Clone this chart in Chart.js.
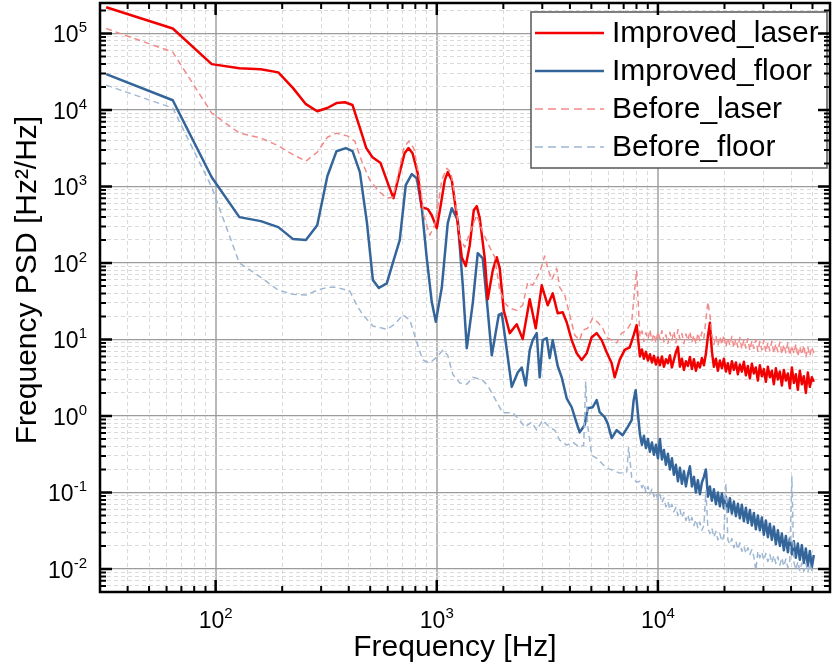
<!DOCTYPE html>
<html>
<head>
<meta charset="utf-8">
<title>Frequency PSD</title>
<script src="https://cdn.jsdelivr.net/npm/chart.js@4.4.1/dist/chart.umd.min.js"></script>
<style>
  html, body { margin: 0; padding: 0; background: #fff; }
</style>
</head>
<body>
<canvas id="psd" width="832" height="670"></canvas>
<script>
// decade ticks: labels are "10" with these exponents
const xDecades = [100, 1000, 10000];
const xTickExponents = ["2", "3", "4"];
const yDecades = [0.01, 0.1, 1, 10, 100, 1000, 10000, 100000];
const yTickExponents = ["-2", "-1", "0", "1", "2", "3", "4", "5"];

const xTitle = "Frequency [Hz]";
const yTitle = "Frequency PSD [Hz²/Hz]";
const seriesNames = ["Improved_laser", "Improved_floor", "Before_laser", "Before_floor"];

// shared frequency grid (Hz) for the noisy part above ~8 kHz
const tailHz = [8291, 8466, 8644, 8825, 9011, 9201, 9395, 9593, 9794, 10000,
  10211, 10425, 10644, 10868, 11097, 11331, 11569, 11812, 12061, 12315,
  12574, 12838, 13108, 13384, 13665, 13953, 14246, 14546, 14852, 15164,
  15483, 15809, 16141, 16481, 16827, 17181, 17542, 17911, 18288, 18672,
  19065, 19466, 19875, 20293, 20719, 21155, 21600, 22054, 22518, 22991,
  23475, 23968, 24472, 24987, 25512, 26049, 26596, 27155, 27726, 28309,
  28906, 29512, 30132, 30766, 31414, 32077, 32751, 33439, 34143, 34863,
  35596, 36343, 37107, 37889, 38684, 39500, 40329, 41178, 42045, 42928,
  43831, 44754, 45694, 46656, 47636, 48638, 49660, 50704];

// Improved_laser
const improvedLaserHz = [32, 64, 96, 128, 160, 192, 224, 256, 288, 320,
  352, 384, 416, 448, 480, 512, 557, 605, 637, 679,
  715, 745, 777, 820, 855, 911, 949, 1000, 1042, 1087,
  1121, 1169, 1231, 1297, 1352, 1410, 1470, 1516, 1564, 1648,
  1700, 1791, 1867, 1926, 2008, 2138, 2299, 2447, 2632, 2802,
  2982, 3174, 3344, 3522, 3711, 3868, 4075, 4293, 4522, 4764,
  5018, 5286, 5568, 5865, 6179, 6375, 6715, 7074, 7451, 7768, 8014];
const improvedLaserPsd = [2.2e5, 1.16e5, 3.97e4, 3.5e4, 3.4e4, 3.1e4, 1.93e4, 1.19e4, 9.6e3, 1.06e4,
  1.23e4, 1.26e4, 1.16e4, 5.96e3, 3.17e3, 2.41e3, 2.02e3, 1.04e3, 703, 1490,
  2720, 3170, 2720, 1490, 536, 505, 420, 285, 570, 1210,
  1540, 1210, 420, 119, 91, 171, 490, 553, 385, 115,
  33.6, 80, 119, 85, 24, 12.1, 15.8, 10.1, 33.6, 14,
  51, 28, 40, 22, 22.7, 16.8, 9.8, 6.6, 5.4, 6.6,
  10.7, 12.1, 9.8, 6.8, 4.9, 3.2, 5.4, 7.3, 7.9, 11.4, 15.4];
const improvedLaserTail = [6.0, 7.4, 5.6, 6.9, 5.3, 6.4, 5.0, 6.1, 4.7, 5.8,
  4.6, 6.0, 4.4, 5.5, 4.9, 6.2, 4.3, 5.4, 6.8, 8.0,
  4.4, 5.6, 4.0, 5.2, 4.5, 5.9, 4.1, 5.5, 3.9, 5.0,
  4.3, 5.7, 4.6, 6.5, 11, 16.5, 7.0, 4.4, 5.6, 3.9,
  5.3, 4.2, 5.6, 3.8, 4.9, 3.6, 5.2, 4.0, 5.0, 3.5,
  4.7, 3.8, 5.1, 3.4, 4.5, 3.1, 4.8, 3.6, 4.3, 2.9,
  4.6, 3.3, 4.1, 2.8, 4.4, 3.2, 3.9, 2.6, 4.2, 3.0,
  3.8, 2.5, 4.0, 2.9, 3.6, 2.3, 4.3, 2.7, 3.5, 2.2,
  3.9, 2.6, 3.3, 2.0, 3.7, 2.4, 3.2, 2.8];

// Improved_floor
const improvedFloorHz = [32, 64, 96, 128, 160, 192, 224, 256, 288, 320,
  352, 388, 416, 449, 483, 514, 547, 594, 633, 680,
  724, 771, 812, 855, 901, 949, 990, 1053, 1121, 1169,
  1244, 1311, 1367, 1455, 1532, 1614, 1700, 1773, 1907, 1967,
  2094, 2183, 2323, 2422, 2525, 2632, 2716, 2831, 2921, 3013,
  3141, 3241, 3344, 3522, 3673, 3868, 4075, 4293, 4429, 4666,
  4813, 5070, 5286, 5453, 5745, 5927, 6179, 6509, 6928, 7298,
  7608, 7768, 7931];
const improvedFloorPsd = [2.94e4, 1.34e4, 1320, 397, 352, 294, 205, 199, 312, 1360,
  2890, 3170, 2890, 1540, 342, 60, 47, 54, 100, 199,
  1040, 1450, 1280, 536, 115, 31, 17, 47, 331, 520,
  363, 51, 7.7, 30, 134, 115, 24, 6.2, 21, 22,
  5.9, 2.4, 3.7, 4.3, 2.5, 7.25, 9.8, 12.1, 3.2, 9.8,
  10.4, 5.7, 9.8, 4.5, 3.2, 1.7, 1.3, 0.8, 0.61, 0.76,
  1.26, 1.3, 1.61, 1.12, 0.965, 0.8, 0.513, 0.652, 0.561, 0.714,
  0.88, 1.61, 2.17];
const improvedFloorTail = [0.58, 0.42, 0.55, 0.38, 0.50, 0.34, 0.45, 0.31, 0.42, 0.28,
  0.50, 0.27, 0.36, 0.23, 0.32, 0.20, 0.28, 0.17, 0.23, 0.14,
  0.21, 0.13, 0.19, 0.12, 0.17, 0.22, 0.12, 0.16, 0.10, 0.145,
  0.095, 0.135, 0.16, 0.20, 0.088, 0.12, 0.078, 0.11, 0.070, 0.10,
  0.066, 0.097, 0.062, 0.088, 0.056, 0.084, 0.053, 0.076, 0.049, 0.071,
  0.046, 0.069, 0.042, 0.063, 0.040, 0.059, 0.037, 0.054, 0.033, 0.050,
  0.032, 0.047, 0.028, 0.043, 0.026, 0.039, 0.024, 0.036, 0.021, 0.032,
  0.020, 0.029, 0.0175, 0.027, 0.0165, 0.025, 0.0155, 0.023, 0.014, 0.0215,
  0.0132, 0.0205, 0.012, 0.0185, 0.011, 0.0172, 0.0105, 0.0152];

// Before_laser
const beforeLaserHz = [32, 64, 96, 128, 160, 192, 224, 256, 288, 320,
  352, 396, 426, 458, 498, 547, 594, 633, 673, 709,
  747, 787, 838, 873, 930, 979, 1021, 1053, 1110, 1157,
  1206, 1271, 1338, 1425, 1516, 1614, 1718, 1829, 1926, 2029,
  2138, 2299, 2447, 2578, 2716, 2921, 3077, 3174, 3309, 3486,
  3597, 3789, 3991, 4204, 4429, 4569, 4813, 5070, 5341, 5626,
  5865, 6179, 6509, 6856, 7222, 7608, 7849, 8014];
const beforeLaserPsd = [1.16e5, 5.7e4, 9.1e3, 4.98e3, 4.3e3, 3.4e3, 2.6e3, 2.14e3, 2.8e3, 4.4e3,
  4.98e3, 4.55e3, 3.9e3, 2.14e3, 1.21e3, 868, 703, 725, 1540, 3170,
  3910, 3170, 1210, 422, 231, 312, 662, 1210, 1730, 1540,
  770, 211, 161, 268, 422, 253, 171, 119, 44, 30,
  25.7, 24, 28, 56, 51, 76, 123, 85, 60, 85,
  48, 38, 21, 11.4, 9.8, 13.2, 14, 19, 16.8, 14,
  10.7, 9.8, 9.0, 12.1, 13.2, 16.8, 44, 80];
const beforeLaserTail = [10.8, 12.9, 9.4, 12.2, 10.0, 13.4, 9.6, 11.9, 9.1, 12.6,
  10.2, 13.0, 9.3, 11.5, 8.9, 12.4, 9.8, 12.8, 9.0, 13.5,
  10.0, 12.0, 8.8, 11.8, 9.5, 12.7, 9.2, 11.4, 8.7, 12.1,
  9.6, 12.5, 10.4, 18, 31, 21, 11.5, 8.6, 11.2, 8.3,
  10.9, 8.5, 11.4, 8.0, 10.5, 8.4, 11.0, 7.8, 10.2, 7.9,
  10.6, 7.5, 9.9, 7.7, 10.3, 7.2, 9.6, 7.6, 10.0, 7.0,
  9.4, 7.3, 9.8, 6.8, 9.1, 7.1, 9.5, 6.6, 8.8, 6.9,
  9.2, 6.4, 8.6, 6.7, 9.0, 6.2, 8.3, 6.5, 8.7, 6.0,
  8.1, 6.3, 8.4, 5.8, 7.9, 6.1, 8.0, 6.6];

// Before_floor
const beforeFloorHz = [32, 64, 96, 128, 160, 192, 224, 256, 288, 320,
  352, 404, 435, 463, 514, 594, 646, 702, 755, 812,
  864, 930, 1000, 1064, 1121, 1181, 1271, 1367, 1455, 1597,
  1700, 1829, 1987, 2205, 2372, 2499, 2687, 2831, 3013, 3241,
  3414, 3597, 3868, 4118, 4429, 4617, 4714, 4813, 5018, 5286,
  5568, 5865, 6243, 6715, 7222, 7374, 7608, 8014];
const beforeFloorPsd = [2.11e4, 1.06e4, 980, 100, 65, 44, 39, 38, 44, 48,
  48, 43, 28, 21, 15, 13.6, 15.8, 21, 18, 9.2,
  5.4, 4.9, 5.9, 7.25, 6.2, 3.5, 2.7, 2.6, 3.2, 3.0,
  2.5, 1.7, 1.1, 1.1, 0.88, 0.714, 0.83, 0.652, 0.88, 0.714,
  0.652, 0.483, 0.415, 0.455, 0.39, 0.415, 2.77, 0.758, 0.307, 0.281,
  0.241, 0.208, 0.196, 0.179, 0.184, 0.39, 0.158, 0.136];
const beforeFloorTail = [0.14, 0.115, 0.13, 0.10, 0.12, 0.095, 0.11, 0.088, 0.10, 0.080,
  0.094, 0.074, 0.085, 0.065, 0.076, 0.060, 0.070, 0.056, 0.064, 0.050,
  0.060, 0.047, 0.055, 0.043, 0.051, 0.040, 0.047, 0.037, 0.044, 0.034,
  0.041, 0.032, 0.037, 0.105, 0.034, 0.029, 0.034, 0.026, 0.031, 0.024,
  0.029, 0.023, 0.027, 0.13, 0.024, 0.021, 0.025, 0.019, 0.023, 0.018,
  0.022, 0.017, 0.020, 0.016, 0.019, 0.0155, 0.018, 0.0145, 0.0095, 0.017,
  0.014, 0.0165, 0.013, 0.016, 0.0125, 0.0155, 0.012, 0.015, 0.0118, 0.0145,
  0.0112, 0.014, 0.0108, 0.0135, 0.0104, 0.013, 0.16, 0.0122, 0.0098, 0.0125,
  0.0095, 0.012, 0.0093, 0.0118, 0.0091, 0.0116, 0.0096, 0.011];

const FONT = '"Liberation Sans", Arial, Helvetica, sans-serif';

function toPoints(hz, psd) {
  return hz.map((f, i) => ({ x: f, y: psd[i] }));
}

// 1..9 x 10^n ticks inside the range, decades flagged as major
function logTicks(min, max) {
  const ticks = [];
  for (let e = Math.floor(Math.log10(min)); e <= Math.ceil(Math.log10(max)); e++) {
    for (let m = 1; m <= 9; m++) {
      const v = m * Math.pow(10, e);
      if (v > min * 1.001 && v < max * 0.999) ticks.push({ value: v, major: m === 1 });
    }
  }
  return ticks;
}

const isMajor = c => c.tick && c.tick.major;

// "10" followed by a raised, smaller exponent
function drawPower(ctx, exp, x, baseY, align) {
  ctx.font = "23px " + FONT;
  const wBase = ctx.measureText("10").width;
  ctx.font = "15px " + FONT;
  const wExp = ctx.measureText(exp).width;
  const x0 = align === "center" ? x - (wBase + wExp) / 2 : x - wBase - wExp;
  ctx.font = "23px " + FONT;
  ctx.fillText("10", x0, baseY);
  ctx.font = "15px " + FONT;
  ctx.fillText(exp, x0 + wBase, baseY - 10);
}

// inward ticks on all four sides, black frame, tick labels and axis titles
const framePlugin = {
  id: "frame",
  afterDraw(chart) {
    const { ctx, chartArea: a, scales } = chart;
    ctx.save();
    ctx.strokeStyle = "#000";
    scales.x.ticks.forEach(t => {
      const px = scales.x.getPixelForValue(t.value);
      const len = t.major ? 12 : 6;
      ctx.lineWidth = t.major ? 2.5 : 2;
      ctx.beginPath();
      ctx.moveTo(px, a.bottom); ctx.lineTo(px, a.bottom - len);
      ctx.moveTo(px, a.top); ctx.lineTo(px, a.top + len);
      ctx.stroke();
    });
    scales.y.ticks.forEach(t => {
      const py = scales.y.getPixelForValue(t.value);
      const len = t.major ? 12 : 6;
      ctx.lineWidth = t.major ? 2.5 : 2;
      ctx.beginPath();
      ctx.moveTo(a.left, py); ctx.lineTo(a.left + len, py);
      ctx.moveTo(a.right, py); ctx.lineTo(a.right - len, py);
      ctx.stroke();
    });
    ctx.lineWidth = 2.5;
    ctx.strokeRect(a.left, a.top, a.right - a.left, a.bottom - a.top);

    ctx.fillStyle = "#000";
    ctx.textAlign = "left";
    ctx.textBaseline = "alphabetic";
    xDecades.forEach((d, i) => {
      drawPower(ctx, xTickExponents[i], scales.x.getPixelForValue(d), a.bottom + 36, "center");
    });
    yDecades.forEach((d, i) => {
      drawPower(ctx, yTickExponents[i], a.left - 13, scales.y.getPixelForValue(d) + 9, "right");
    });

    ctx.font = "30px " + FONT;
    ctx.textAlign = "center";
    ctx.textBaseline = "middle";
    ctx.fillText(xTitle, 455, 648);
    ctx.translate(28, 280);
    ctx.rotate(-Math.PI / 2);
    ctx.fillText(yTitle, 0, 0);
    ctx.restore();
  }
};

// boxed legend in the upper right corner
const legendPlugin = {
  id: "boxLegend",
  afterDatasetsDraw(chart) {
    const { ctx } = chart;
    ctx.save();
    ctx.fillStyle = "#fff";
    ctx.fillRect(531, 12, 296, 156);
    ctx.strokeStyle = "#555";
    ctx.lineWidth = 1.5;
    ctx.strokeRect(531, 12, 296, 156);
    ctx.font = "30px " + FONT;
    ctx.textBaseline = "middle";
    ctx.textAlign = "left";
    chart.data.datasets.forEach((ds, i) => {
      const y = 33 + i * 38;
      ctx.strokeStyle = ds.borderColor;
      ctx.lineWidth = ds.borderWidth;
      ctx.setLineDash(ds.borderDash && ds.borderDash.length ? [8, 5] : []);
      ctx.beginPath();
      ctx.moveTo(535, y);
      ctx.lineTo(604, y);
      ctx.stroke();
      ctx.setLineDash([]);
      ctx.fillStyle = "#000";
      ctx.fillText(ds.label, 612, y + 1);
    });
    ctx.restore();
  }
};

const datasets = [
  {
    label: seriesNames[0],
    data: toPoints(improvedLaserHz.concat(tailHz), improvedLaserPsd.concat(improvedLaserTail)),
    borderColor: "#f20000",
    borderWidth: 2.5,
    order: 2,
  },
  {
    label: seriesNames[1],
    data: toPoints(improvedFloorHz.concat(tailHz), improvedFloorPsd.concat(improvedFloorTail)),
    borderColor: "#33659a",
    borderWidth: 2.5,
    order: 2,
  },
  {
    label: seriesNames[2],
    data: toPoints(beforeLaserHz.concat(tailHz), beforeLaserPsd.concat(beforeLaserTail)),
    borderColor: "#f38a8a",
    borderWidth: 1.5,
    borderDash: [6, 4],
    order: 1,
  },
  {
    label: seriesNames[3],
    data: toPoints(beforeFloorHz.concat(tailHz), beforeFloorPsd.concat(beforeFloorTail)),
    borderColor: "#9fb7d2",
    borderWidth: 1.5,
    borderDash: [6, 4],
    order: 1,
  },
];

new Chart(document.getElementById("psd"), {
  type: "line",
  data: { datasets: datasets },
  options: {
    responsive: false,
    animation: false,
    layout: { padding: { top: 3, right: 2, left: 0, bottom: 0 } },
    elements: {
      point: { radius: 0, hoverRadius: 0 },
      line: { tension: 0, fill: false, borderJoinStyle: "round" },
    },
    plugins: {
      legend: { display: false },
      tooltip: { enabled: false },
    },
    scales: {
      x: {
        type: "logarithmic",
        min: 30,
        max: 60000,
        afterBuildTicks: s => { s.ticks = logTicks(s.min, s.max); },
        afterFit: s => { s.height = 78; s.paddingLeft = 0; s.paddingRight = 0; },
        grid: {
          drawTicks: false,
          color: c => (isMajor(c) ? "#b8b8b8" : "#dadada"),
          lineWidth: c => (isMajor(c) ? 2 : 1),
        },
        border: { display: false, dash: c => (c.tick && !c.tick.major ? [4, 3] : []) },
        ticks: { display: false, autoSkip: false },
      },
      y: {
        type: "logarithmic",
        min: 0.005,
        max: 250000,
        afterBuildTicks: s => { s.ticks = logTicks(s.min, s.max); },
        afterFit: s => { s.width = 100; s.paddingTop = 0; s.paddingBottom = 0; },
        grid: {
          drawTicks: false,
          color: c => (isMajor(c) ? "#9c9c9c" : "#dadada"),
          lineWidth: c => (isMajor(c) ? 1.3 : 1),
        },
        border: { display: false, dash: c => (c.tick && !c.tick.major ? [4, 3] : []) },
        ticks: { display: false, autoSkip: false },
      },
    },
  },
  plugins: [legendPlugin, framePlugin],
});
</script>
</body>
</html>
